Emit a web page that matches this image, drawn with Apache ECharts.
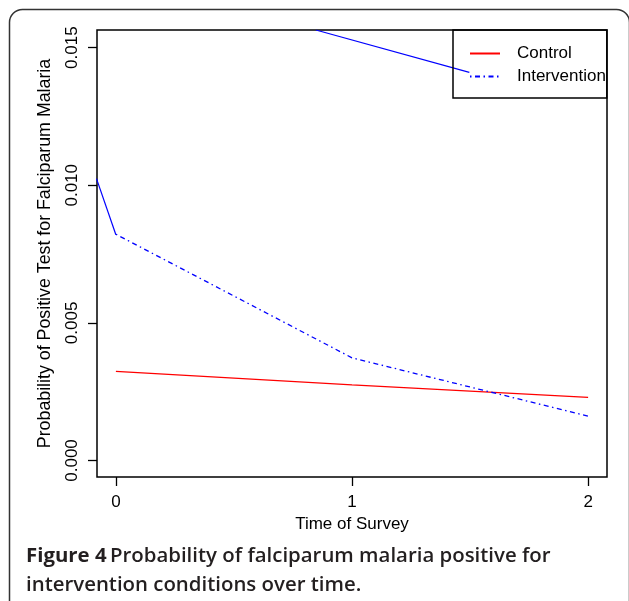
<!DOCTYPE html>
<html>
<head>
<meta charset="utf-8">
<script src="https://cdn.jsdelivr.net/npm/echarts@6/dist/echarts.min.js"></script>
<style>
  html, body { margin: 0; padding: 0; background: #fff; }
  #main { width: 629px; height: 601px; }
</style>
</head>
<body>
<div id="main"></div>
<script>
// 資料
const timePoints = [0, 1, 2];
const controlProb = [0.00324, 0.00275, 0.00229];
const interventionProb = [0.00822, 0.00373, 0.00161];
// 實線藍色部分 (左上與上方兩段)
const solidLeftX = [-0.0822, 0];
const solidLeftY = [0.01024, 0.0082];
const solidTopX = [0.847, 1.497];
const solidTopY = [0.01564, 0.0141];
// 刻度
const xTicks = [0, 1, 2];
const yTicks = [0, 0.005, 0.010, 0.015];

let chart = echarts.init(document.getElementById("main"));

function pairs(xs, ys) {
    return xs.map((x, i) => [x, ys[i]]);
}

const axisFont = { fontFamily: "Liberation Sans", fontSize: 17, color: "#000" };

let option = {
    backgroundColor: "#fff",
    animation: false,
    grid: {
        left: 97, top: 30, width: 510, height: 447,
        show: true, borderColor: "#000", borderWidth: 1.5, backgroundColor: "transparent"
    },
    legend: {
        data: ["Control", "Intervention"],
        orient: "vertical",
        left: 453, top: 30,
        padding: [15, 1, 13, 16],
        itemWidth: 30, itemHeight: 14, itemGap: 6,
        borderColor: "#000", borderWidth: 1.5,
        itemStyle: { opacity: 0 },
        textStyle: Object.assign({ padding: [0, 0, 0, 12] }, axisFont)
    },
    xAxis: {
        type: "value",
        min: -0.08, max: 2.08,
        splitLine: { show: false },
        axisLine: { show: false, onZero: false },
        axisTick: { show: true, length: 9, customValues: xTicks, lineStyle: { color: "#000", width: 1.3 } },
        axisLabel: Object.assign({ customValues: xTicks, margin: 17, formatter: v => String(v) }, axisFont),
        name: "Time of Survey",
        nameLocation: "middle",
        nameGap: 37,
        nameTextStyle: axisFont
    },
    yAxis: {
        type: "value",
        min: -0.0006, max: 0.01564,
        splitLine: { show: false },
        axisLine: { show: false, onZero: false },
        axisTick: { show: true, length: 9, customValues: yTicks, lineStyle: { color: "#000", width: 1.3 } },
        axisLabel: Object.assign({ customValues: yTicks, rotate: 90, margin: 16, formatter: v => v.toFixed(3) }, axisFont),
        name: "Probability of Positive Test for Falciparum Malaria",
        nameLocation: "middle",
        nameGap: 43,
        nameTextStyle: Object.assign({}, axisFont, { fontSize: 17.8 })
    },
    series: [
        {
            name: "Control",
            type: "line",
            data: pairs(timePoints, controlProb),
            symbol: "none",
            itemStyle: { color: "#ff0000" },
            lineStyle: { color: "#ff0000", width: 1.3 }
        },
        {
            name: "Intervention",
            type: "line",
            data: pairs(timePoints, interventionProb),
            symbol: "none",
            itemStyle: { color: "#0000ff" },
            lineStyle: { color: "#0000ff", width: 1.3, type: [1.5, 3.5, 5, 3.5] }
        },
        {
            name: "solidLeft",
            type: "line",
            data: pairs(solidLeftX, solidLeftY),
            symbol: "none",
            lineStyle: { color: "#0000ff", width: 1.2 }
        },
        {
            name: "solidTop",
            type: "line",
            data: pairs(solidTopX, solidTopY),
            symbol: "none",
            lineStyle: { color: "#0000ff", width: 1.2 }
        }
    ],
    graphic: [
        {
            type: "rect",
            shape: { x: 9.5, y: 9.5, width: 620, height: 640, r: 13 },
            style: { fill: "none", stroke: "#333", lineWidth: 1.5 },
            silent: true
        },
        {
            type: "text",
            left: 26, top: 542,
            style: {
                text: "{b|Figure 4} {s|Probability of falciparum malaria positive for}\n{s|intervention conditions over time.}",
                lineHeight: 28.5,
                rich: {
                    b: { fontFamily: "Open Sans", fontWeight: 700, fontSize: 20.4, fill: "#231f20", lineHeight: 28.5 },
                    s: { fontFamily: "Open Sans", fontWeight: 600, fontSize: 20.4, fill: "#231f20", lineHeight: 28.5 }
                }
            }
        }
    ]
};

chart.setOption(option);
</script>
</body>
</html>
